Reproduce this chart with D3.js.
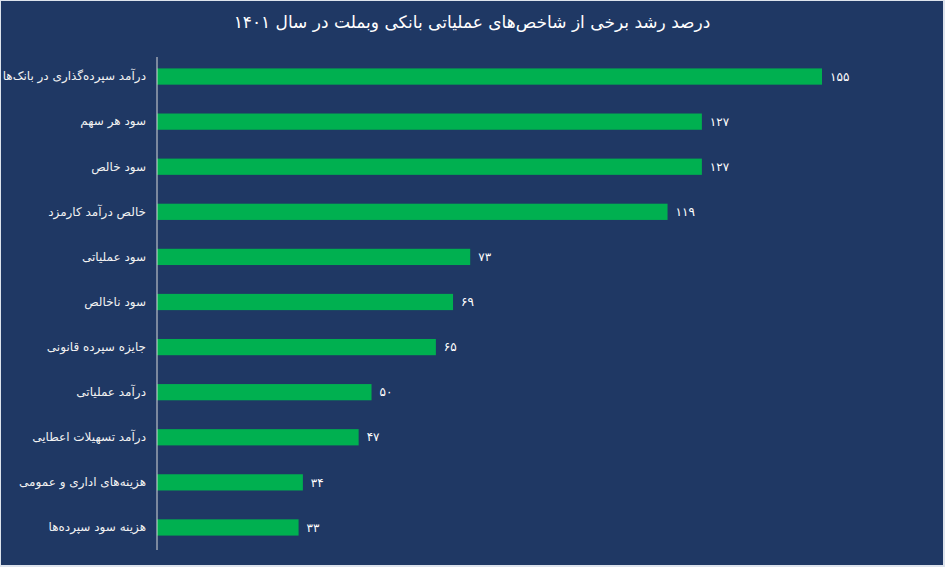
<!DOCTYPE html>
<html><head><meta charset="utf-8">
<script src="https://cdn.jsdelivr.net/npm/d3@7/dist/d3.min.js"></script>
<style>html,body{margin:0;padding:0;background:#1f3864;}svg{display:block;}</style>
</head><body><svg id="c" width="945" height="567"></svg>
<script>
const title = "درصد رشد برخی از شاخص‌های عملیاتی بانکی وبملت در سال ۱۴۰۱";
const categories = ["درآمد سپرده‌گذاری در بانک‌ها","سود هر سهم","سود خالص","خالص درآمد کارمزد","سود عملیاتی","سود ناخالص","جایزه سپرده قانونی","درآمد عملیاتی","درآمد تسهیلات اعطایی","هزینه‌های اداری و عمومی","هزینه سود سپرده‌ها"];
const values = [155,127,127,119,73,69,65,50,47,34,33];

const W=945,H=567;
const svg=d3.select("#c");
svg.append("rect").attr("x",0).attr("y",0).attr("width",W).attr("height",H).attr("fill","#dde3ec");
svg.append("rect").attr("x",1).attr("y",1).attr("width",W-3).attr("height",H-3).attr("fill","#1f3864");
const fa = n => String(n).replace(/\d/g,d=>"۰۱۲۳۴۵۶۷۸۹"[d]);
const mLeft=157, mTop=54, mBottom=550;
const x=d3.scaleLinear().domain([0,155]).range([mLeft,822]);
const y=d3.scaleBand().domain(categories).range([mTop,mBottom]).paddingInner(0.64).paddingOuter(0.32);
svg.append("text").attr("x",472).attr("y",28).attr("text-anchor","middle").attr("fill","#ffffff")
  .attr("font-family","DejaVu Sans").attr("font-size",17).attr("direction","rtl").text(title);
const g=svg.append("g");
g.selectAll("rect.bar").data(values).join("rect").attr("class","bar")
  .attr("x",x(0)).attr("y",(d,i)=>y(categories[i])).attr("width",d=>x(d)-x(0)).attr("height",y.bandwidth()).attr("fill","#00b050");
g.selectAll("text.val").data(values).join("text").attr("class","val")
  .attr("x",d=>x(d)+8).attr("y",(d,i)=>y(categories[i])+y.bandwidth()/2).attr("dy","0.35em")
  .attr("fill","#ffffff").attr("font-family","DejaVu Sans").attr("font-size",12).text(d=>fa(d));
const ax=svg.append("g").attr("transform",`translate(${mLeft},0)`).call(d3.axisLeft(y).tickSize(0).tickPadding(11));
ax.select(".domain").attr("stroke","#d9d9d9").attr("d",`M0,57V550`);
ax.selectAll("text").attr("fill","#f2f2f2").attr("font-family","DejaVu Sans").attr("font-size",12).attr("direction","rtl").attr("text-anchor","start");
</script></body></html>
